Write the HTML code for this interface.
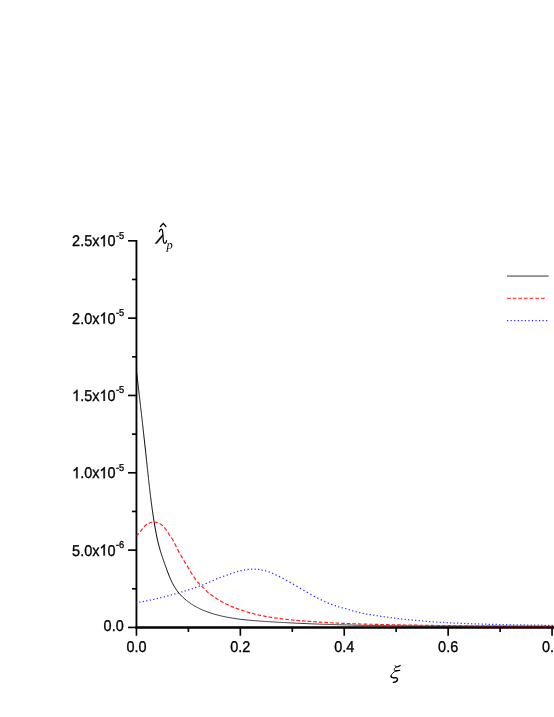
<!DOCTYPE html>
<html><head><meta charset="utf-8"><title>chart</title>
<style>
html,body{margin:0;padding:0;background:#fff;}
body{width:554px;height:717px;overflow:hidden;position:relative;font-family:"Liberation Sans",sans-serif;}
svg{position:absolute;left:0;top:0;display:block;will-change:transform;text-rendering:geometricPrecision;}
.t{font-family:"Liberation Sans",sans-serif;font-size:14.45px;fill:#000;stroke:#000;stroke-width:0.33px;}
.s{font-family:"Liberation Sans",sans-serif;font-size:9.3px;fill:#000;stroke:#000;stroke-width:0.3px;}
.m{font-family:"Liberation Serif",serif;font-style:italic;fill:#000;}
.h{fill-opacity:0;stroke-opacity:0;}
.g1{fill:#000;stroke:#000;stroke-width:47;}
</style></head><body>
<svg width="554" height="717" viewBox="0 0 554 717">
<rect width="554" height="717" fill="#fff"/>

<g stroke="#000" stroke-width="1.85" fill="none">
<path d="M136.45,239.98 V628.38"/>
<path d="M135.52,627.45 H556"/>
</g>
<g stroke="#000" stroke-width="1.65" fill="none">
<path d="M128.05,627.45 H136.45"/>
<path d="M131.95,588.79 H136.45"/>
<path d="M128.05,550.12 H136.45"/>
<path d="M131.95,511.45 H136.45"/>
<path d="M128.05,472.79 H136.45"/>
<path d="M131.95,434.13 H136.45"/>
<path d="M128.05,395.46 H136.45"/>
<path d="M131.95,356.80 H136.45"/>
<path d="M128.05,318.13 H136.45"/>
<path d="M131.95,279.47 H136.45"/>
<path d="M128.05,240.80 H136.45"/>
<path d="M136.45,627.45 V635.75"/>
<path d="M188.40,627.45 V631.95"/>
<path d="M240.35,627.45 V635.75"/>
<path d="M292.30,627.45 V631.95"/>
<path d="M344.25,627.45 V635.75"/>
<path d="M396.20,627.45 V631.95"/>
<path d="M448.15,627.45 V635.75"/>
<path d="M500.10,627.45 V631.95"/>
<path d="M552.05,627.45 V635.75"/>
</g>
<path d="M136.50,602.70 L136.61,602.68 L136.72,602.67 L136.82,602.65 L136.93,602.63 L136.95,602.63 M139.25,602.25 L139.40,602.23 L139.72,602.17 L139.93,602.13 L140.26,602.08 L140.45,602.04 M142.75,601.63 L142.93,601.59 L143.25,601.53 L143.47,601.49 L143.79,601.43 L143.95,601.40 M146.24,600.95 L146.46,600.91 L146.78,600.85 L146.99,600.80 L147.31,600.74 L147.44,600.71 M149.74,600.23 L149.97,600.18 L150.18,600.14 L150.50,600.07 L150.72,600.02 L150.94,599.97 M153.24,599.46 L153.48,599.41 L153.69,599.36 L154.01,599.29 L154.22,599.24 L154.44,599.19 M156.73,598.65 L156.98,598.59 L157.19,598.54 L157.50,598.47 L157.72,598.41 L157.93,598.36 M160.23,597.80 L160.47,597.74 L160.68,597.69 L160.99,597.61 L161.20,597.56 L161.43,597.50 M163.73,596.91 L163.95,596.86 L164.16,596.80 L164.47,596.72 L164.68,596.66 L164.92,596.60 M167.22,596.00 L167.42,595.94 L167.74,595.86 L167.95,595.80 L168.26,595.72 L168.42,595.68 M170.72,595.05 L170.89,595.00 L171.20,594.92 L171.41,594.86 L171.73,594.77 L171.91,594.72 M174.21,594.08 L174.45,594.01 L174.66,593.95 L174.98,593.87 L175.18,593.81 L175.41,593.74 M177.70,593.09 L177.90,593.03 L178.22,592.94 L178.43,592.88 L178.74,592.79 L178.90,592.75 M181.20,592.08 L181.45,592.01 L181.66,591.95 L181.98,591.86 L182.18,591.79 L182.40,591.73 M184.69,591.05 L184.89,590.99 L185.20,590.90 L185.41,590.83 L185.72,590.74 L185.89,590.69 M188.19,589.98 L188.42,589.91 L188.63,589.85 L188.94,589.75 L189.15,589.68 L189.38,589.61 M191.68,588.87 L191.94,588.79 L192.15,588.72 L192.46,588.62 L192.66,588.55 L192.88,588.48 M195.17,587.70 L195.44,587.61 L195.65,587.54 L195.95,587.43 L196.16,587.36 L196.37,587.29 M198.66,586.46 L198.92,586.37 L199.13,586.29 L199.43,586.18 L199.64,586.10 L199.86,586.02 M202.15,585.15 L202.38,585.06 L202.59,584.98 L202.89,584.86 L203.09,584.78 L203.35,584.67 M205.64,583.74 L205.92,583.62 L206.12,583.54 L206.42,583.41 L206.62,583.33 L206.84,583.24 M209.13,582.25 L209.42,582.12 L209.62,582.04 L209.92,581.90 L210.12,581.82 L210.32,581.72 M212.61,580.69 L212.89,580.57 L213.09,580.48 L213.38,580.35 L213.58,580.26 L213.81,580.16 M216.10,579.15 L216.36,579.04 L216.56,578.95 L216.86,578.83 L217.06,578.74 L217.30,578.64 M219.59,577.73 L219.77,577.66 L220.08,577.54 L220.28,577.46 L220.59,577.35 L220.79,577.27 M223.08,576.44 L223.35,576.35 L223.55,576.27 L223.86,576.16 L224.06,576.09 L224.28,576.02 M226.57,575.22 L226.84,575.13 L227.04,575.06 L227.35,574.95 L227.56,574.88 L227.77,574.81 M230.06,574.01 L230.33,573.92 L230.53,573.85 L230.84,573.74 L231.04,573.67 L231.26,573.60 M233.55,572.82 L233.81,572.74 L234.02,572.67 L234.33,572.57 L234.53,572.50 L234.75,572.43 M237.05,571.72 L237.22,571.67 L237.53,571.58 L237.74,571.52 L238.05,571.43 L238.25,571.38 M240.54,570.78 L240.77,570.72 L240.98,570.67 L241.29,570.60 L241.51,570.55 L241.74,570.50 M244.04,570.03 L244.17,570.01 L244.49,569.96 L244.71,569.92 L245.03,569.87 L245.24,569.84 M247.54,569.53 L247.74,569.51 L248.07,569.47 L248.29,569.45 L248.61,569.42 L248.74,569.41 M251.04,569.26 L251.24,569.25 L251.57,569.24 L251.79,569.23 L252.12,569.22 L252.24,569.22 M254.54,569.22 L254.75,569.23 L255.08,569.24 L255.30,569.24 L255.62,569.26 L255.74,569.26 M258.04,569.43 L258.24,569.45 L258.57,569.48 L258.78,569.51 L259.11,569.54 L259.24,569.56 M261.54,569.90 L261.69,569.93 L262.01,569.99 L262.23,570.03 L262.55,570.09 L262.73,570.13 M265.03,570.66 L265.29,570.73 L265.50,570.78 L265.81,570.87 L266.02,570.93 L266.23,570.99 M268.53,571.72 L268.80,571.82 L269.00,571.89 L269.30,572.00 L269.51,572.07 L269.72,572.15 M272.02,573.06 L272.22,573.14 L272.42,573.23 L272.72,573.35 L272.92,573.44 L273.21,573.57 M275.50,574.61 L275.78,574.74 L275.98,574.84 L276.27,574.98 L276.47,575.07 L276.70,575.18 M278.98,576.33 L279.19,576.43 L279.48,576.58 L279.68,576.68 L279.97,576.83 L280.18,576.94 M282.47,578.15 L282.66,578.25 L282.95,578.41 L283.14,578.51 L283.43,578.67 L283.66,578.79 M285.95,580.04 L286.20,580.18 L286.39,580.29 L286.68,580.45 L286.87,580.55 L287.14,580.71 M289.42,582.00 L289.62,582.11 L289.90,582.27 L290.09,582.38 L290.37,582.54 L290.62,582.68 M292.90,584.00 L293.11,584.12 L293.39,584.28 L293.58,584.39 L293.86,584.56 L294.09,584.69 M296.38,586.02 L296.59,586.15 L296.88,586.32 L297.06,586.43 L297.35,586.59 L297.57,586.72 M299.85,588.06 L300.07,588.19 L300.35,588.36 L300.54,588.47 L300.82,588.63 L301.04,588.76 M303.33,590.10 L303.55,590.22 L303.83,590.39 L304.02,590.50 L304.30,590.66 L304.52,590.79 M306.81,592.11 L307.04,592.24 L307.32,592.40 L307.51,592.51 L307.79,592.67 L308.00,592.79 M310.28,594.08 L310.54,594.22 L310.73,594.32 L311.02,594.48 L311.21,594.59 L311.48,594.74 M313.76,595.99 L313.97,596.10 L314.26,596.26 L314.45,596.36 L314.74,596.51 L314.96,596.63 M317.24,597.83 L317.52,597.98 L317.72,598.08 L318.01,598.22 L318.20,598.32 L318.44,598.44 M320.73,599.59 L321.01,599.73 L321.21,599.82 L321.50,599.97 L321.70,600.06 L321.92,600.17 M324.21,601.25 L324.45,601.35 L324.64,601.44 L324.94,601.58 L325.14,601.67 L325.41,601.79 M327.70,602.80 L327.92,602.89 L328.12,602.98 L328.42,603.10 L328.62,603.19 L328.89,603.30 M331.18,604.22 L331.44,604.33 L331.64,604.40 L331.95,604.52 L332.15,604.60 L332.38,604.69 M334.67,605.53 L334.92,605.61 L335.12,605.68 L335.43,605.79 L335.64,605.86 L335.87,605.94 M338.17,606.69 L338.34,606.75 L338.65,606.84 L338.86,606.91 L339.18,607.00 L339.37,607.05 M341.66,607.65 L341.91,607.71 L342.12,607.76 L342.44,607.83 L342.65,607.88 L342.86,607.93 M345.16,608.48 L345.37,608.54 L345.58,608.59 L345.89,608.68 L346.10,608.74 L346.36,608.81 M348.65,609.49 L348.90,609.57 L349.11,609.64 L349.42,609.74 L349.63,609.80 L349.85,609.87 M352.15,610.60 L352.32,610.66 L352.63,610.75 L352.84,610.82 L353.15,610.91 L353.34,610.97 M355.64,611.63 L355.87,611.69 L356.08,611.75 L356.39,611.83 L356.60,611.89 L356.84,611.95 M359.13,612.50 L359.35,612.55 L359.56,612.60 L359.88,612.67 L360.09,612.72 L360.33,612.77 M362.63,613.25 L362.86,613.29 L363.08,613.34 L363.40,613.40 L363.61,613.44 L363.83,613.48 M366.13,613.90 L366.29,613.93 L366.61,613.99 L366.83,614.03 L367.15,614.08 L367.33,614.11 M369.63,614.51 L369.83,614.54 L370.15,614.59 L370.37,614.63 L370.69,614.68 L370.83,614.71 M373.13,615.08 L373.27,615.11 L373.59,615.16 L373.81,615.19 L374.13,615.24 L374.32,615.27 M376.62,615.64 L376.82,615.67 L377.14,615.72 L377.36,615.75 L377.68,615.80 L377.82,615.82 M380.12,616.17 L380.26,616.19 L380.59,616.23 L380.80,616.27 L381.12,616.31 L381.32,616.34 M383.62,616.67 L383.82,616.70 L384.14,616.75 L384.36,616.78 L384.68,616.82 L384.82,616.84 M387.12,617.16 L387.27,617.18 L387.59,617.22 L387.80,617.25 L388.13,617.29 L388.32,617.32 M390.62,617.62 L390.82,617.65 L391.15,617.69 L391.36,617.72 L391.69,617.76 L391.82,617.78 M394.12,618.07 L394.28,618.09 L394.60,618.13 L394.82,618.15 L395.14,618.19 L395.32,618.21 M397.62,618.49 L397.84,618.52 L398.05,618.54 L398.38,618.58 L398.59,618.61 L398.82,618.63 M401.11,618.90 L401.30,618.92 L401.62,618.95 L401.84,618.98 L402.16,619.01 L402.31,619.03 M404.61,619.28 L404.75,619.30 L405.08,619.33 L405.29,619.35 L405.62,619.39 L405.81,619.41 M408.11,619.65 L408.32,619.67 L408.65,619.70 L408.86,619.73 L409.19,619.76 L409.31,619.77 M411.61,620.00 L411.79,620.01 L412.11,620.05 L412.33,620.07 L412.65,620.10 L412.81,620.11 M415.11,620.33 L415.25,620.34 L415.57,620.37 L415.79,620.39 L416.12,620.42 L416.31,620.44 M418.61,620.65 L418.82,620.66 L419.15,620.69 L419.36,620.71 L419.69,620.74 L419.81,620.75 M422.11,620.94 L422.29,620.96 L422.62,620.99 L422.83,621.00 L423.16,621.03 L423.31,621.04 M425.61,621.23 L425.76,621.24 L426.08,621.27 L426.30,621.28 L426.63,621.31 L426.81,621.32 M429.11,621.50 L429.23,621.51 L429.55,621.53 L429.77,621.55 L430.10,621.57 L430.31,621.59 M432.61,621.75 L432.81,621.76 L433.13,621.79 L433.35,621.80 L433.68,621.82 L433.81,621.83 M436.11,621.99 L436.28,622.00 L436.61,622.02 L436.82,622.04 L437.15,622.06 L437.31,622.07 M439.61,622.22 L439.76,622.23 L440.08,622.25 L440.30,622.26 L440.62,622.28 L440.81,622.29 M443.11,622.43 L443.23,622.44 L443.56,622.46 L443.77,622.47 L444.10,622.49 L444.31,622.50 M446.61,622.63 L446.81,622.64 L447.14,622.66 L447.36,622.67 L447.68,622.69 L447.81,622.70 M450.11,622.82 L450.29,622.83 L450.62,622.85 L450.84,622.86 L451.16,622.87 L451.31,622.88 M453.61,623.00 L453.77,623.00 L454.10,623.02 L454.31,623.03 L454.64,623.05 L454.81,623.05 M457.11,623.16 L457.25,623.17 L457.57,623.18 L457.79,623.19 L458.12,623.21 L458.31,623.22 M460.61,623.32 L460.73,623.32 L461.05,623.34 L461.27,623.35 L461.60,623.36 L461.81,623.37 M464.11,623.47 L464.32,623.47 L464.64,623.49 L464.86,623.50 L465.19,623.51 L465.31,623.51 M467.61,623.60 L467.80,623.61 L468.12,623.62 L468.34,623.63 L468.67,623.64 L468.81,623.65 M471.11,623.73 L471.28,623.74 L471.61,623.75 L471.82,623.76 L472.15,623.77 L472.31,623.77 M474.61,623.85 L474.76,623.86 L475.09,623.87 L475.30,623.87 L475.63,623.88 L475.81,623.89 M478.11,623.96 L478.24,623.97 L478.57,623.98 L478.79,623.98 L479.11,623.99 L479.31,624.00 M481.61,624.07 L481.73,624.07 L482.05,624.08 L482.27,624.09 L482.60,624.10 L482.81,624.10 M485.11,624.16 L485.32,624.17 L485.64,624.18 L485.86,624.19 L486.19,624.19 L486.31,624.20 M488.61,624.26 L488.80,624.26 L489.13,624.27 L489.34,624.27 L489.67,624.28 L489.81,624.29 M492.11,624.34 L492.28,624.35 L492.61,624.35 L492.83,624.36 L493.15,624.37 L493.31,624.37 M495.61,624.42 L495.77,624.43 L496.09,624.43 L496.31,624.44 L496.64,624.45 L496.81,624.45 M499.11,624.50 L499.25,624.50 L499.58,624.51 L499.79,624.51 L500.12,624.52 L500.31,624.52 M502.61,624.57 L502.73,624.57 L503.06,624.58 L503.28,624.58 L503.60,624.59 L503.81,624.59 M506.11,624.64 L506.32,624.64 L506.65,624.65 L506.87,624.65 L507.19,624.66 L507.31,624.66 M509.61,624.70 L509.81,624.71 L510.13,624.71 L510.35,624.72 L510.68,624.72 L510.81,624.72 M513.11,624.76 L513.29,624.77 L513.61,624.77 L513.83,624.78 L514.16,624.78 L514.31,624.79 M516.61,624.82 L516.77,624.83 L517.10,624.83 L517.31,624.84 L517.64,624.84 L517.81,624.84 M520.11,624.88 L520.25,624.89 L520.58,624.89 L520.79,624.89 L521.12,624.90 L521.31,624.90 M523.61,624.94 L523.73,624.94 L524.06,624.95 L524.28,624.95 L524.60,624.96 L524.81,624.96 M527.11,625.00 L527.32,625.00 L527.65,625.00 L527.86,625.01 L528.19,625.01 L528.31,625.01 M530.61,625.05 L530.80,625.05 L531.13,625.06 L531.34,625.06 L531.67,625.07 L531.81,625.07 M534.11,625.11 L534.28,625.11 L534.61,625.12 L534.82,625.12 L535.15,625.13 L535.31,625.13 M537.61,625.17 L537.76,625.17 L538.08,625.17 L538.30,625.18 L538.63,625.18 L538.81,625.19 M541.11,625.22 L541.23,625.23 L541.56,625.23 L541.78,625.24 L542.10,625.24 L542.31,625.24 M544.61,625.28 L544.82,625.29 L545.14,625.29 L545.36,625.30 L545.69,625.30 L545.81,625.31 M548.11,625.35 L548.29,625.35 L548.62,625.36 L548.84,625.36 L549.16,625.37 L549.31,625.37 M551.61,625.41 L551.77,625.42 L552.09,625.42 L552.31,625.43 L552.64,625.43 L552.81,625.44 M555.11,625.48 L555.24,625.48 L555.46,625.49 L555.57,625.49 L555.78,625.50 L556.00,625.50" fill="none" stroke="#2a2aff" stroke-width="1.25"/>
<path d="M136.60,372.00 L136.72,373.01 L136.84,374.03 L136.95,375.04 L137.07,376.05 L137.19,377.07 L137.31,378.08 L137.43,379.09 L137.55,380.11 L137.66,381.12 L137.78,382.13 L137.90,383.15 L138.02,384.16 L138.13,385.18 L138.25,386.19 L138.37,387.20 L138.49,388.22 L138.60,389.23 L138.72,390.24 L138.84,391.26 L138.95,392.27 L139.07,393.28 L139.19,394.30 L139.31,395.31 L139.42,396.32 L139.54,397.34 L139.65,398.35 L139.77,399.36 L139.89,400.38 L140.00,401.39 L140.12,402.40 L140.24,403.42 L140.35,404.43 L140.47,405.45 L140.58,406.46 L140.70,407.47 L140.81,408.49 L140.93,409.50 L141.04,410.51 L141.16,411.53 L141.27,412.54 L141.39,413.55 L141.50,414.57 L141.62,415.58 L141.73,416.60 L141.85,417.61 L141.96,418.62 L142.08,419.64 L142.19,420.65 L142.30,421.66 L142.42,422.68 L142.53,423.69 L142.64,424.70 L142.76,425.72 L142.87,426.73 L142.98,427.75 L143.10,428.76 L143.21,429.77 L143.32,430.79 L143.44,431.80 L143.55,432.82 L143.66,433.83 L143.77,434.84 L143.89,435.86 L144.00,436.87 L144.11,437.89 L144.22,438.90 L144.33,439.91 L144.44,440.93 L144.55,441.94 L144.67,442.96 L144.78,443.97 L144.89,444.98 L145.00,446.00 L145.11,447.01 L145.22,448.03 L145.33,449.04 L145.44,450.05 L145.55,451.07 L145.66,452.08 L145.77,453.10 L145.88,454.11 L145.99,455.13 L146.10,456.14 L146.20,457.15 L146.31,458.17 L146.42,459.18 L146.53,460.20 L146.64,461.21 L146.75,462.23 L146.85,463.24 L146.96,464.26 L147.07,465.27 L147.18,466.28 L147.29,467.30 L147.39,468.31 L147.50,469.33 L147.61,470.34 L147.72,471.36 L147.83,472.37 L147.94,473.39 L148.05,474.40 L148.16,475.41 L148.27,476.43 L148.38,477.44 L148.49,478.46 L148.60,479.47 L148.71,480.49 L148.82,481.50 L148.93,482.51 L149.05,483.53 L149.16,484.54 L149.28,485.55 L149.39,486.57 L149.51,487.58 L149.62,488.60 L149.74,489.61 L149.86,490.62 L149.98,491.64 L150.10,492.65 L150.22,493.66 L150.34,494.68 L150.47,495.69 L150.59,496.70 L150.71,497.71 L150.84,498.73 L150.97,499.74 L151.10,500.75 L151.23,501.76 L151.36,502.78 L151.49,503.79 L151.62,504.80 L151.76,505.81 L151.90,506.82 L152.03,507.83 L152.17,508.84 L152.31,509.85 L152.45,510.87 L152.60,511.88 L152.74,512.89 L152.89,513.90 L153.04,514.91 L153.19,515.92 L153.34,516.93 L153.50,517.94 L153.65,518.95 L153.81,519.95 L153.97,520.96 L154.13,521.97 L154.29,522.98 L154.46,523.99 L154.62,525.00 L154.79,526.00 L154.97,527.01 L155.14,528.02 L155.32,529.02 L155.50,530.03 L155.69,531.03 L155.88,532.03 L156.07,533.04 L156.26,534.04 L156.46,535.04 L156.67,536.04 L156.88,537.03 L157.09,538.03 L157.31,539.02 L157.53,540.02 L157.76,541.01 L157.99,542.00 L158.23,542.99 L158.48,543.98 L158.73,544.96 L158.98,545.95 L159.24,546.93 L159.51,547.91 L159.79,548.89 L160.07,549.86 L160.36,550.83 L160.65,551.81 L160.95,552.77 L161.26,553.74 L161.57,554.71 L161.89,555.67 L162.21,556.64 L162.53,557.60 L162.86,558.56 L163.20,559.53 L163.53,560.49 L163.87,561.45 L164.21,562.41 L164.56,563.38 L164.90,564.34 L165.25,565.30 L165.59,566.27 L165.94,567.23 L166.29,568.20 L166.63,569.17 L166.98,570.14 L167.34,571.10 L167.70,572.07 L168.06,573.03 L168.43,574.00 L168.80,574.96 L169.18,575.91 L169.57,576.86 L169.96,577.81 L170.37,578.75 L170.78,579.69 L171.21,580.62 L171.64,581.55 L172.09,582.46 L172.56,583.37 L173.03,584.27 L173.52,585.16 L174.03,586.05 L174.55,586.92 L175.09,587.78 L175.65,588.63 L176.22,589.48 L176.81,590.30 L177.42,591.12 L178.05,591.92 L178.69,592.72 L179.34,593.50 L180.01,594.26 L180.70,595.02 L181.40,595.76 L182.11,596.48 L182.84,597.20 L183.58,597.89 L184.33,598.58 L185.09,599.25 L185.86,599.90" fill="none" stroke="#000" stroke-width="0.98"/>
<path d="M185.86,599.90 L186.64,600.55 L187.44,601.17 L188.24,601.78 L189.05,602.38 L189.88,602.97 L190.71,603.54 L191.55,604.10 L192.40,604.64 L193.26,605.18 L194.13,605.70 L195.01,606.20 L195.89,606.70 L196.78,607.18 L197.68,607.65 L198.59,608.11 L199.50,608.55 L200.42,608.99 L201.34,609.41 L202.28,609.83 L203.21,610.23 L204.16,610.62 L205.11,611.00 L206.06,611.38 L207.02,611.74 L207.98,612.09 L208.95,612.43 L209.92,612.76 L210.90,613.08 L211.88,613.40 L212.86,613.70 L213.85,614.00 L214.84,614.29 L215.83,614.56 L216.82,614.84 L217.82,615.10 L218.82,615.35 L219.82,615.60 L220.82,615.84 L221.82,616.07 L222.82,616.30 L223.83,616.52 L224.83,616.73 L225.84,616.94 L226.84,617.14 L227.85,617.33 L228.85,617.52 L229.86,617.70 L230.87,617.87 L231.88,618.04 L232.89,618.21 L233.89,618.37 L234.90,618.52 L235.91,618.67 L236.92,618.81 L237.93,618.95 L238.95,619.08 L239.96,619.21 L240.97,619.34 L241.98,619.46 L242.99,619.58 L244.01,619.69 L245.02,619.80 L246.03,619.91 L247.05,620.01 L248.06,620.11 L249.08,620.21 L250.09,620.30 L251.11,620.39 L252.12,620.48 L253.14,620.56 L254.15,620.65 L255.17,620.73 L256.18,620.81 L257.20,620.88 L258.22,620.96 L259.23,621.03 L260.25,621.10 L261.26,621.17 L262.28,621.24 L263.30,621.31 L264.32,621.38 L265.33,621.44 L266.35,621.51 L267.37,621.57 L268.38,621.64 L269.40,621.70 L270.42,621.77 L271.43,621.83 L272.45,621.89 L273.47,621.95 L274.49,622.01 L275.50,622.07 L276.52,622.13 L277.54,622.19 L278.56,622.25 L279.57,622.31 L280.59,622.37 L281.61,622.42 L282.63,622.48 L283.64,622.53 L284.66,622.59 L285.68,622.64 L286.70,622.70 L287.72,622.75 L288.73,622.80 L289.75,622.85 L290.77,622.91 L291.79,622.96 L292.81,623.01 L293.82,623.06 L294.84,623.11 L295.86,623.15 L296.88,623.20 L297.90,623.25 L298.92,623.30 L299.93,623.34 L300.95,623.39 L301.97,623.43 L302.99,623.48 L304.01,623.52 L305.03,623.57 L306.05,623.61 L307.06,623.65 L308.08,623.69 L309.10,623.74 L310.12,623.78 L311.14,623.82 L312.16,623.86 L313.18,623.90 L314.20,623.94 L315.22,623.98 L316.23,624.01 L317.25,624.05 L318.27,624.09 L319.29,624.13 L320.31,624.16 L321.33,624.20 L322.35,624.23 L323.37,624.27 L324.39,624.30 L325.41,624.34 L326.43,624.37 L327.45,624.40 L328.47,624.44 L329.49,624.47 L330.50,624.50 L331.52,624.53 L332.54,624.56 L333.56,624.59 L334.58,624.62 L335.60,624.65 L336.62,624.68 L337.64,624.71 L338.66,624.74 L339.68,624.76 L340.70,624.79 L341.72,624.82 L342.74,624.85 L343.76,624.87 L344.78,624.90 L345.80,624.92 L346.82,624.95 L347.84,624.97 L348.86,625.00 L349.88,625.02 L350.90,625.04 L351.92,625.07 L352.94,625.09 L353.96,625.11 L354.98,625.13 L356.00,625.16 L357.02,625.18 L358.04,625.20 L359.06,625.22 L360.08,625.24 L361.10,625.26 L362.12,625.28 L363.14,625.30 L364.16,625.32 L365.18,625.33 L366.20,625.35 L367.22,625.37 L368.24,625.39 L369.27,625.40 L370.29,625.42 L371.31,625.44 L372.33,625.45 L373.35,625.47 L374.37,625.48 L375.39,625.50 L376.41,625.52 L377.43,625.53 L378.45,625.54 L379.47,625.56 L380.49,625.57 L381.51,625.59 L382.53,625.60 L383.55,625.61 L384.57,625.62 L385.59,625.64 L386.62,625.65 L387.64,625.66 L388.66,625.67 L389.68,625.68 L390.70,625.69 L391.72,625.71 L392.74,625.72 L393.76,625.73 L394.78,625.74 L395.80,625.75 L396.82,625.76 L397.84,625.77 L398.86,625.77 L399.89,625.78 L400.91,625.79 L401.93,625.80 L402.95,625.81 L403.97,625.82 L404.99,625.82 L406.01,625.83 L407.03,625.84 L408.05,625.85 L409.07,625.85 L410.09,625.86 L411.12,625.87 L412.14,625.87 L413.16,625.88 L414.18,625.89 L415.20,625.89 L416.22,625.90 L417.24,625.90 L418.26,625.91 L419.28,625.91 L420.30,625.92 L421.33,625.92 L422.35,625.93 L423.37,625.93 L424.39,625.94 L425.41,625.94 L426.43,625.95 L427.45,625.95 L428.47,625.95 L429.49,625.96 L430.51,625.96 L431.54,625.96 L432.56,625.97 L433.58,625.97 L434.60,625.97 L435.62,625.98 L436.64,625.98 L437.66,625.98 L438.68,625.98 L439.70,625.99 L440.72,625.99 L441.75,625.99 L442.77,625.99 L443.79,626.00 L444.81,626.00 L445.83,626.00 L446.85,626.00 L447.87,626.00 L448.89,626.01 L449.91,626.01 L450.93,626.01 L451.95,626.01 L452.98,626.01 L454.00,626.01 L455.02,626.01 L456.04,626.02 L457.06,626.02 L458.08,626.02 L459.10,626.02 L460.12,626.02 L461.14,626.02 L462.16,626.02 L463.18,626.02 L464.21,626.02 L465.23,626.03 L466.25,626.03 L467.27,626.03 L468.29,626.03 L469.31,626.03 L470.33,626.03 L471.35,626.03 L472.37,626.03 L473.39,626.03 L474.41,626.03 L475.43,626.03 L476.45,626.04 L477.47,626.04 L478.50,626.04 L479.52,626.04 L480.54,626.04 L481.56,626.04 L482.58,626.04 L483.60,626.04 L484.62,626.04 L485.64,626.04 L486.66,626.05 L487.68,626.05 L488.70,626.05 L489.72,626.05 L490.74,626.05 L491.76,626.05 L492.78,626.05 L493.80,626.06 L494.82,626.06 L495.84,626.06 L496.86,626.06 L497.88,626.06 L498.91,626.06 L499.93,626.07 L500.95,626.07 L501.97,626.07 L502.99,626.07 L504.01,626.08 L505.03,626.08 L506.05,626.08 L507.07,626.08 L508.09,626.09 L509.11,626.09 L510.13,626.09 L511.15,626.10 L512.17,626.10 L513.19,626.10 L514.21,626.11 L515.23,626.11 L516.25,626.11 L517.27,626.12 L518.29,626.12 L519.31,626.13 L520.33,626.13 L521.35,626.13 L522.37,626.14 L523.39,626.14 L524.41,626.15 L525.42,626.15 L526.44,626.16 L527.46,626.16 L528.48,626.17 L529.50,626.18 L530.52,626.18 L531.54,626.19 L532.56,626.20 L533.58,626.20 L534.60,626.21 L535.62,626.22 L536.64,626.22 L537.66,626.23 L538.68,626.24 L539.70,626.25 L540.72,626.25 L541.74,626.26 L542.75,626.27 L543.77,626.28 L544.79,626.29 L545.81,626.30 L546.83,626.31 L547.85,626.32 L548.87,626.33 L549.89,626.34 L550.91,626.35 L551.92,626.36 L552.94,626.37 L553.96,626.38 L554.98,626.39 L556.00,626.40" fill="none" stroke="#000" stroke-width="0.78"/>
<path d="M136.50,535.90 L136.97,535.46 L137.43,534.99 L137.88,534.50 L138.34,533.99 L138.78,533.46 M140.13,531.77 L140.63,531.13 L141.16,530.45 L141.61,529.87 L142.14,529.20 L142.64,528.58 M144.05,526.95 L144.61,526.35 L145.20,525.77 L145.72,525.28 L146.35,524.76 L146.95,524.29 M148.69,523.23 L149.38,522.92 L150.03,522.68 L150.80,522.45 L151.48,522.30 L152.22,522.18 M154.16,522.09 L154.87,522.13 L155.57,522.21 L156.38,522.35 L157.06,522.51 L157.77,522.73 M159.60,523.52 L160.21,523.87 L160.88,524.31 L161.52,524.79 L162.14,525.30 L162.70,525.82 M164.17,527.36 L164.66,527.94 L165.19,528.60 L165.70,529.27 L166.20,529.96 L166.64,530.59 M167.87,532.42 L168.30,533.08 L168.76,533.78 L169.29,534.58 L169.74,535.27 L170.14,535.86 M171.39,537.67 L171.86,538.37 L172.29,539.02 L172.77,539.78 L173.17,540.46 L173.57,541.19 M174.56,543.21 L174.89,543.91 L175.29,544.77 L175.65,545.52 L176.06,546.37 L176.38,547.02 M177.40,549.03 L177.76,549.73 L178.20,550.56 L178.59,551.28 L179.04,552.10 L179.38,552.72 M180.48,554.66 L180.87,555.35 L181.28,556.06 L181.75,556.87 L182.16,557.57 L182.57,558.26 M183.71,560.17 L184.07,560.78 L184.55,561.58 L184.97,562.28 L185.45,563.08 L185.84,563.74 M186.98,565.65 L187.36,566.30 L187.84,567.10 L188.26,567.81 L188.73,568.62 L189.10,569.23 M190.23,571.14 L190.59,571.75 L191.08,572.55 L191.51,573.26 L192.01,574.05 L192.40,574.68 M193.61,576.53 L194.06,577.19 L194.52,577.87 L195.06,578.63 L195.54,579.29 L195.98,579.87 M197.32,581.57 L197.78,582.13 L198.32,582.75 L198.94,583.44 L199.50,584.04 L200.00,584.56 M201.52,586.03 L202.11,586.57 L202.72,587.12 L203.25,587.60 L203.85,588.15 L204.42,588.69 M205.89,590.23 L206.38,590.77 L206.92,591.37 L207.56,592.03 L208.12,592.59 L208.67,593.08 M210.35,594.28 L211.00,594.72 L211.67,595.17 L212.24,595.57 L212.91,596.03 L213.52,596.46 M215.21,597.63 L215.82,598.05 L216.51,598.51 L217.10,598.91 L217.80,599.36 L218.41,599.74 M220.15,600.80 L220.82,601.19 L221.43,601.54 L222.14,601.94 L222.76,602.27 L223.46,602.65 M225.26,603.57 L225.97,603.92 L226.60,604.22 L227.33,604.57 L227.96,604.86 L228.65,605.17 M230.48,605.98 L231.15,606.27 L231.80,606.54 L232.55,606.85 L233.20,607.11 L233.94,607.41 M235.79,608.13 L236.46,608.39 L237.11,608.63 L237.88,608.92 L238.54,609.16 L239.28,609.43 M241.15,610.08 L241.87,610.33 L242.54,610.55 L243.32,610.81 L243.99,611.03 L244.67,611.25 M246.56,611.84 L247.24,612.05 L247.92,612.25 L248.71,612.48 L249.38,612.67 L250.11,612.88 M252.01,613.39 L252.66,613.56 L253.46,613.77 L254.14,613.94 L254.93,614.14 L255.58,614.29 M257.50,614.74 L258.12,614.88 L258.92,615.06 L259.61,615.21 L260.41,615.38 L261.09,615.52 M263.01,615.91 L263.73,616.05 L264.42,616.18 L265.22,616.33 L265.91,616.46 L266.62,616.59 M268.55,616.92 L269.25,617.04 L269.94,617.15 L270.74,617.28 L271.44,617.39 L272.16,617.51 M274.10,617.80 L274.79,617.90 L275.60,618.01 L276.29,618.11 L277.10,618.22 L277.73,618.30 M279.66,618.55 L280.35,618.64 L281.16,618.74 L281.86,618.82 L282.67,618.92 L283.30,618.99 M285.24,619.21 L285.92,619.29 L286.74,619.38 L287.44,619.45 L288.25,619.54 L288.87,619.60 M290.82,619.80 L291.51,619.87 L292.32,619.95 L293.02,620.01 L293.84,620.09 L294.46,620.15 M296.40,620.33 L297.10,620.39 L297.80,620.45 L298.61,620.53 L299.31,620.59 L300.04,620.65 M301.98,620.82 L302.69,620.88 L303.39,620.93 L304.21,621.00 L304.91,621.06 L305.63,621.11 M307.57,621.27 L308.29,621.32 L308.99,621.37 L309.80,621.44 L310.50,621.49 L311.22,621.54 M313.16,621.68 L313.89,621.73 L314.59,621.78 L315.40,621.83 L316.10,621.88 L316.81,621.93 M318.75,622.05 L319.37,622.09 L320.19,622.15 L320.89,622.19 L321.71,622.24 L322.40,622.28 M324.35,622.40 L324.98,622.43 L325.79,622.48 L326.49,622.52 L327.31,622.57 L327.99,622.61 M329.94,622.71 L330.58,622.74 L331.40,622.79 L332.10,622.82 L332.92,622.86 L333.59,622.90 M335.53,622.99 L336.19,623.03 L337.01,623.06 L337.71,623.10 L338.53,623.13 L339.18,623.16 M341.13,623.25 L341.80,623.28 L342.62,623.31 L343.32,623.34 L344.14,623.38 L344.78,623.40 M346.73,623.48 L347.41,623.51 L348.23,623.54 L348.93,623.57 L349.75,623.60 L350.38,623.62 M352.32,623.69 L353.02,623.72 L353.84,623.75 L354.55,623.77 L355.36,623.80 L355.97,623.82 M357.92,623.88 L358.64,623.91 L359.34,623.93 L360.16,623.95 L360.86,623.97 L361.57,624.00 M363.52,624.05 L364.14,624.07 L364.96,624.09 L365.66,624.11 L366.48,624.14 L367.17,624.16 M369.12,624.21 L369.75,624.23 L370.57,624.25 L371.27,624.26 L372.09,624.29 L372.77,624.30 M374.72,624.35 L375.37,624.37 L376.19,624.38 L376.89,624.40 L377.71,624.42 L378.37,624.44 M380.32,624.48 L380.99,624.49 L381.81,624.51 L382.51,624.53 L383.33,624.54 L383.97,624.56 M385.92,624.60 L386.60,624.61 L387.42,624.63 L388.12,624.64 L388.94,624.66 L389.57,624.67 M391.52,624.71 L392.22,624.72 L392.92,624.74 L393.74,624.75 L394.44,624.77 L395.16,624.78 M397.11,624.82 L397.84,624.83 L398.54,624.84 L399.36,624.86 L400.06,624.87 L400.76,624.89 M402.71,624.92 L403.34,624.93 L404.16,624.95 L404.86,624.96 L405.68,624.97 L406.36,624.99 M408.31,625.02 L408.95,625.03 L409.77,625.05 L410.47,625.06 L411.29,625.07 L411.96,625.09 M413.91,625.12 L414.57,625.13 L415.39,625.15 L416.09,625.16 L416.91,625.17 L417.56,625.18 M419.51,625.22 L420.18,625.23 L421.00,625.24 L421.70,625.25 L422.52,625.27 L423.16,625.28 M425.11,625.31 L425.80,625.32 L426.62,625.33 L427.32,625.34 L428.14,625.36 L428.76,625.37 M430.71,625.40 L431.41,625.41 L432.23,625.42 L432.93,625.43 L433.75,625.45 L434.36,625.46 M436.31,625.49 L437.03,625.50 L437.73,625.51 L438.55,625.52 L439.25,625.53 L439.96,625.54 M441.91,625.57 L442.52,625.58 L443.34,625.59 L444.04,625.60 L444.86,625.61 L445.56,625.62 M447.51,625.65 L448.14,625.66 L448.96,625.67 L449.66,625.68 L450.48,625.69 L451.16,625.70 M453.11,625.73 L453.75,625.74 L454.57,625.75 L455.27,625.76 L456.09,625.77 L456.76,625.78 M458.71,625.80 L459.37,625.81 L460.18,625.82 L460.89,625.83 L461.70,625.84 L462.36,625.85 M464.31,625.87 L464.98,625.88 L465.80,625.89 L466.50,625.90 L467.32,625.91 L467.96,625.92 M469.91,625.94 L470.59,625.95 L471.41,625.96 L472.11,625.97 L472.93,625.97 L473.56,625.98 M475.51,626.00 L476.21,626.01 L477.03,626.02 L477.73,626.03 L478.55,626.04 L479.16,626.04 M481.11,626.06 L481.82,626.07 L482.52,626.08 L483.34,626.08 L484.04,626.09 L484.76,626.10 M486.71,626.12 L487.32,626.12 L488.14,626.13 L488.84,626.14 L489.66,626.14 L490.36,626.15 M492.31,626.17 L492.93,626.17 L493.75,626.18 L494.45,626.18 L495.27,626.19 L495.96,626.20 M497.91,626.21 L498.55,626.22 L499.37,626.22 L500.07,626.23 L500.89,626.24 L501.56,626.24 M503.51,626.25 L504.16,626.26 L504.98,626.26 L505.68,626.27 L506.50,626.27 L507.16,626.28 M509.11,626.29 L509.78,626.29 L510.60,626.30 L511.30,626.30 L512.12,626.31 L512.76,626.31 M514.71,626.32 L515.39,626.33 L516.21,626.33 L516.91,626.33 L517.73,626.34 L518.36,626.34 M520.31,626.35 L521.01,626.35 L521.83,626.36 L522.53,626.36 L523.35,626.36 L523.96,626.37 M525.91,626.37 L526.62,626.37 L527.33,626.38 L528.14,626.38 L528.85,626.38 L529.56,626.38 M531.51,626.39 L532.12,626.39 L532.94,626.39 L533.64,626.39 L534.46,626.40 L535.16,626.40 M537.11,626.40 L537.74,626.40 L538.56,626.40 L539.26,626.40 L540.08,626.40 L540.76,626.41 M542.71,626.41 L543.36,626.41 L544.18,626.41 L544.88,626.41 L545.70,626.41 L546.36,626.41 M548.31,626.41 L548.98,626.41 L549.80,626.41 L550.50,626.41 L551.32,626.41 L551.96,626.41 M553.91,626.40 L554.36,626.40 L554.71,626.40 L555.18,626.40 L555.53,626.40 L556.00,626.40" fill="none" stroke="#ff1a1a" stroke-width="1.15"/>
<path d="M135.52,627.45 H556" stroke="#000" stroke-width="1.85" fill="none"/>
<path d="M507,276.05 H548.7" stroke="#000" stroke-width="0.8" fill="none"/>
<path d="M507,298.3 H545" stroke="#ff1a1a" stroke-width="1.1" stroke-dasharray="3.75 1.92" fill="none"/>
<path d="M507,320.6 H547.2" stroke="#2a2aff" stroke-width="1.25" stroke-dasharray="1.25 2.3" fill="none"/>
<text class="t" transform="translate(123.70,630.65) scale(1,1.08)" text-anchor="end">0.0</text>
<text class="t" transform="translate(72.11,555.57) scale(1,1.08)" text-anchor="start">5.0x<tspan class="h">1</tspan>0</text>
<path class="g1" transform="translate(99.43,555.57) scale(0.007056,-0.007620)" d="M763,0 L583,0 L583,1147 Q518,1085 412.5,1023 Q307,961 223,930 L223,1104 Q374,1175 487,1276 Q600,1377 647,1472 L763,1472 Z"/>
<text class="s" transform="translate(115.90,548.07) scale(1,1.08)" text-anchor="start">-6</text>
<text class="t" transform="translate(72.11,478.24) scale(1,1.08)" text-anchor="start"><tspan class="h">1</tspan>.0x<tspan class="h">1</tspan>0</text>
<path class="g1" transform="translate(72.11,478.24) scale(0.007056,-0.007620)" d="M763,0 L583,0 L583,1147 Q518,1085 412.5,1023 Q307,961 223,930 L223,1104 Q374,1175 487,1276 Q600,1377 647,1472 L763,1472 Z"/>
<path class="g1" transform="translate(99.43,478.24) scale(0.007056,-0.007620)" d="M763,0 L583,0 L583,1147 Q518,1085 412.5,1023 Q307,961 223,930 L223,1104 Q374,1175 487,1276 Q600,1377 647,1472 L763,1472 Z"/>
<text class="s" transform="translate(115.90,470.74) scale(1,1.08)" text-anchor="start">-5</text>
<text class="t" transform="translate(72.11,400.91) scale(1,1.08)" text-anchor="start"><tspan class="h">1</tspan>.5x<tspan class="h">1</tspan>0</text>
<path class="g1" transform="translate(72.11,400.91) scale(0.007056,-0.007620)" d="M763,0 L583,0 L583,1147 Q518,1085 412.5,1023 Q307,961 223,930 L223,1104 Q374,1175 487,1276 Q600,1377 647,1472 L763,1472 Z"/>
<path class="g1" transform="translate(99.43,400.91) scale(0.007056,-0.007620)" d="M763,0 L583,0 L583,1147 Q518,1085 412.5,1023 Q307,961 223,930 L223,1104 Q374,1175 487,1276 Q600,1377 647,1472 L763,1472 Z"/>
<text class="s" transform="translate(115.90,393.41) scale(1,1.08)" text-anchor="start">-5</text>
<text class="t" transform="translate(72.11,323.58) scale(1,1.08)" text-anchor="start">2.0x<tspan class="h">1</tspan>0</text>
<path class="g1" transform="translate(99.43,323.58) scale(0.007056,-0.007620)" d="M763,0 L583,0 L583,1147 Q518,1085 412.5,1023 Q307,961 223,930 L223,1104 Q374,1175 487,1276 Q600,1377 647,1472 L763,1472 Z"/>
<text class="s" transform="translate(115.90,316.08) scale(1,1.08)" text-anchor="start">-5</text>
<text class="t" transform="translate(72.11,246.25) scale(1,1.08)" text-anchor="start">2.5x<tspan class="h">1</tspan>0</text>
<path class="g1" transform="translate(99.43,246.25) scale(0.007056,-0.007620)" d="M763,0 L583,0 L583,1147 Q518,1085 412.5,1023 Q307,961 223,930 L223,1104 Q374,1175 487,1276 Q600,1377 647,1472 L763,1472 Z"/>
<text class="s" transform="translate(115.90,238.75) scale(1,1.08)" text-anchor="start">-5</text>
<text class="t" transform="translate(136.45,651.50) scale(1,1.08)" text-anchor="middle">0.0</text>
<text class="t" transform="translate(240.35,651.50) scale(1,1.08)" text-anchor="middle">0.2</text>
<text class="t" transform="translate(344.25,651.50) scale(1,1.08)" text-anchor="middle">0.4</text>
<text class="t" transform="translate(448.15,651.50) scale(1,1.08)" text-anchor="middle">0.6</text>
<text class="t" transform="translate(552.05,651.50) scale(1,1.08)" text-anchor="middle">0.8</text>
<g aria-label="xi" fill="none" stroke="#000" stroke-linecap="round" stroke-linejoin="round">
<path d="M394.9,665.3 L396.0,666.9" stroke-width="0.7"/>
<path d="M396.0,667.0 C397.6,666.9 399.0,666.3 400.2,665.5" stroke-width="1.25"/>
<path d="M396.0,667.0 C394.8,667.9 394.0,669.2 394.4,670.1 C394.8,670.9 395.8,670.9 396.8,670.8" stroke-width="1.0"/>
<path d="M395.8,670.9 L399.7,670.3" stroke-width="1.3"/>
<path d="M395.5,671.1 C393.4,672.1 391.0,674.3 391.0,676.1" stroke-width="0.9"/>
<path d="M391.0,676.1 C391.0,677.4 392.3,677.8 393.5,677.8 L395.8,677.8 C397.0,677.8 397.6,678.7 397.5,679.7 C397.3,681.1 395.9,682.2 393.4,682.4" stroke-width="1.45"/>
</g>
<g aria-label="lambda hat" stroke="#000" stroke-linecap="round" stroke-linejoin="round">
<path d="M159.3,231.6 C159.8,229.7 161.2,228.7 162.0,229.6 C163.0,230.9 163.0,236 163.2,239.5 C163.3,242.3 164.0,243.5 165.0,243.3 C165.9,243.1 166.4,242 166.6,240.7" fill="none" stroke-width="1.25"/>
<path d="M162.7,234.3 L163.1,236.0 L156.9,243.6 L155.0,243.6 Z" fill="#000" stroke-width="0.25"/>
<path d="M160.4,226.5 L163.3,223.5 L166.0,226.5" fill="none" stroke-width="1.25" stroke-linejoin="miter"/>
</g>
<text class="m" transform="translate(166.60,249.30) scale(1,1.0)" text-anchor="start" font-size="12.5">p</text>
</svg></body></html>
